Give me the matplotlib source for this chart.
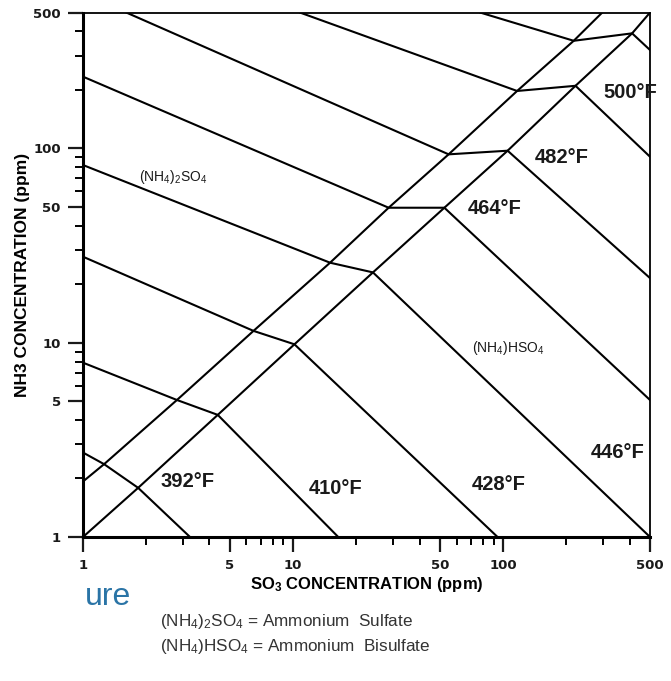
import matplotlib
matplotlib.use("Agg")
import matplotlib.pyplot as plt
from matplotlib.ticker import FixedLocator, NullFormatter, FixedFormatter

plt.rcParams['font.family'] = ['Liberation Sans', 'DejaVu Sans']
plt.rcParams['mathtext.default'] = 'regular'

## axis ticks
x_ticks = [1, 5, 10, 50, 100, 500]
y_ticks = [1, 5, 10, 50, 100, 500]
x_minor = [2, 3, 4, 6, 7, 8, 9, 20, 30, 40, 60, 70, 80, 90, 200, 300, 400]
y_minor = [2, 3, 4, 6, 7, 8, 9, 20, 30, 40, 60, 70, 80, 90, 200, 300, 400]

## phase boundaries (lower = NH3/SO3 1:1, upper = sulfate side)
lo_x = [1, 1.83, 4.38, 10.15, 24.0, 52.5, 105, 221, 411, 500]
lo_y = [1, 1.79, 4.25, 9.81, 23.0, 49.5, 97.3, 210, 391, 500]
hi_x = [1, 1.26, 2.80, 6.48, 15.0, 28.5, 55.0, 116.5, 216.7, 296]
hi_y = [1.93, 2.37, 5.07, 11.5, 25.8, 49.5, 93.2, 197.5, 358, 500]

## isotherms
temps = ['392°F', '410°F', '428°F', '446°F', '464°F', '482°F', '500°F', '']
iso_x = [
    [1, 1.26, 1.83, 3.23],
    [1, 2.80, 4.38, 16.4],
    [1, 6.48, 10.15, 94],
    [1, 15.0, 24.0, 500],
    [1, 28.5, 52.5, 500],
    [1.61, 55.0, 105, 500],
    [10.8, 116.5, 221, 500],
    [77.9, 216.7, 411, 500],
]
iso_y = [
    [2.72, 2.37, 1.79, 1],
    [7.89, 5.07, 4.25, 1],
    [27.7, 11.5, 9.81, 1],
    [82.1, 25.8, 23.0, 1],
    [234, 49.5, 49.5, 5.07],
    [500, 93.2, 97.3, 21.5],
    [500, 197.5, 210, 90.6],
    [500, 358, 391, 321],
]
label_x = [3.13, 15.9, 95, 350, 91, 190, 404]
label_y = [1.94, 1.77, 1.87, 2.72, 49.2, 90, 193.5]

## phase names
phase_names = ['(NH$_4$)$_2$SO$_4$', '(NH$_4$)HSO$_4$']
phase_x = [2.69, 106]
phase_y = [71.5, 9.36]

legend_lines = ['(NH$_4$)$_2$SO$_4$ = Ammonium  Sulfate',
                '(NH$_4$)HSO$_4$ = Ammonium  Bisulfate']

fig = plt.figure(figsize=(6.71, 6.81), dpi=100)
ax = fig.add_axes([0.1237, 0.2115, 0.845, 0.770])
ax.set_xscale('log')
ax.set_yscale('log')
ax.set_xlim(1, 500)
ax.set_ylim(1, 500)

lw = 1.5
ax.plot(lo_x, lo_y, color='black', lw=lw)
ax.plot(hi_x, hi_y, color='black', lw=lw)
for xs, ys in zip(iso_x, iso_y):
    ax.plot(xs, ys, color='black', lw=lw, solid_joinstyle='miter')

for t, lx, ly in zip(temps, label_x, label_y):
    ax.text(lx, ly, t, fontsize=14.5, fontweight='bold', color='#1a1a1a',
            ha='center', va='center')

for name, px, py in zip(phase_names, phase_x, phase_y):
    ax.text(px, py, name, fontsize=10, color='#1a1a1a', ha='center', va='center')

# ticks
ax.xaxis.set_major_locator(FixedLocator(x_ticks))
ax.xaxis.set_major_formatter(FixedFormatter([str(v) for v in x_ticks]))
ax.xaxis.set_minor_locator(FixedLocator(x_minor))
ax.xaxis.set_minor_formatter(NullFormatter())
ax.yaxis.set_major_locator(FixedLocator(y_ticks))
ax.yaxis.set_major_formatter(FixedFormatter([str(v) for v in y_ticks]))
ax.yaxis.set_minor_locator(FixedLocator(y_minor))
ax.yaxis.set_minor_formatter(NullFormatter())
ax.tick_params(which='major', direction='out', length=11, width=1.6, pad=5,
               labelsize=9.5, colors='#1a1a1a')
ax.tick_params(which='minor', direction='out', length=5.5, width=1.4)
for lab in ax.get_xticklabels() + ax.get_yticklabels():
    lab.set_fontweight('bold')
    lab.set_family(['DejaVu Sans'])

ax.spines['left'].set_linewidth(2.2)
ax.spines['bottom'].set_linewidth(2.2)
ax.spines['top'].set_linewidth(1.3)
ax.spines['right'].set_linewidth(1.3)

ax.set_xlabel('SO$_3$ CONCENTRATION (ppm)', fontsize=12, fontweight='bold',
              labelpad=2)
ax.set_ylabel('NH3 CONCENTRATION (ppm)', fontsize=12.5, fontweight='bold',
              labelpad=2)

# slide remnants below the chart
fig.text(0.127, 0.124, 'ure', fontsize=23, color='#2a74a6', va='center')
fig.text(0.238, 0.088, legend_lines[0], fontsize=12.3, color='#333333', va='center')
fig.text(0.238, 0.050, legend_lines[1], fontsize=12.3, color='#333333', va='center')

fig.savefig('out.png', dpi=100, facecolor='white')
